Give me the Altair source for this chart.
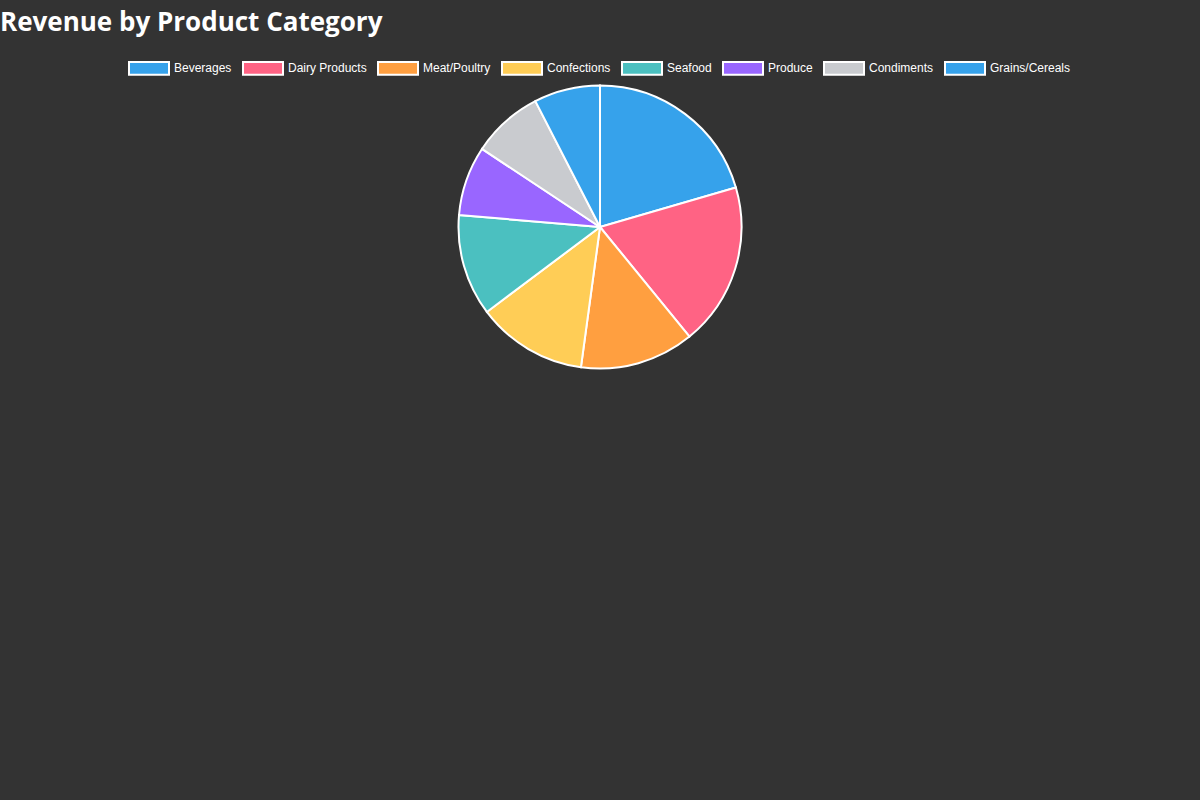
import altair as alt
import pandas as pd

categories = ["Beverages", "Dairy Products", "Meat/Poultry", "Confections",
              "Seafood", "Produce", "Condiments", "Grains/Cereals"]
revenue = [20.5, 18.6, 13.05, 12.6, 11.6, 7.95, 8.15, 7.55]
colors = ["#36A2EB", "#FF6384", "#FF9F40", "#FFCD56",
          "#4BC0C0", "#9966FF", "#C9CBCF", "#36A2EB"]

df = pd.DataFrame({
    "category": categories,
    "revenue": revenue,
    "order": list(range(len(categories))),
})

chart = alt.Chart(df).mark_arc(
    radius=141.5, stroke="white", strokeWidth=2
).encode(
    theta=alt.Theta("revenue:Q", stack=True),
    order=alt.Order("order:Q"),
    color=alt.Color(
        "category:N",
        scale=alt.Scale(domain=categories, range=colors),
        sort=categories,
        legend=alt.Legend(
            title=None,
            orient="none",
            legendX=128,
            legendY=7,
            direction="horizontal",
            columns=8,
            symbolType="M-1,-0.32H1V0.32H-1Z",
            symbolSize=1600,
            symbolStrokeColor="white",
            symbolStrokeWidth=2,
            symbolOpacity=1,
            labelFont="Liberation Sans",
            labelFontSize=12,
            labelColor="#ffffff",
            labelOffset=4,
            columnPadding=7,
        ),
    ),
    x=alt.value(600),
    y=alt.value(187),
    tooltip=["category", "revenue"],
).properties(
    width=1200,
    height=760,
    padding={"left": 0, "top": 40, "right": 0, "bottom": 0},
    autosize=alt.AutoSizeParams(type="none"),
    background="#333333",
    title=alt.TitleParams(
        "Revenue by Product Category",
        anchor="start",
        font="Open Sans",
        fontSize=26,
        fontWeight="bold",
        color="#ffffff",
        baseline="alphabetic",
        offset=10,
        dy=27,
    ),
).configure_view(stroke=None)

chart.save("out.html", embed_options={"renderer": "svg", "actions": False})
